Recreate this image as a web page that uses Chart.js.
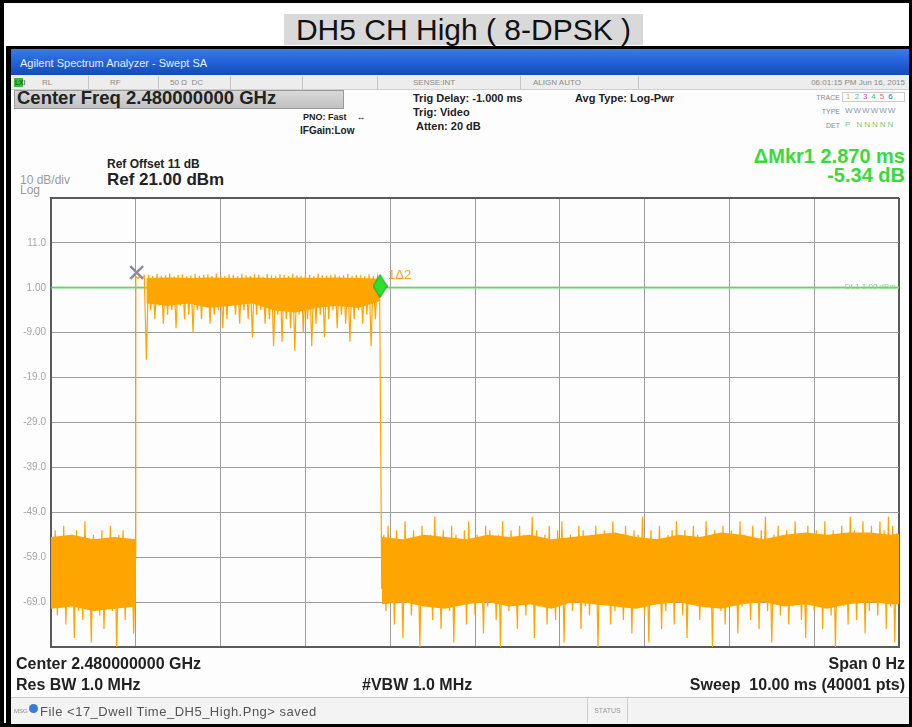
<!DOCTYPE html>
<html>
<head>
<meta charset="utf-8">
<script src="https://cdn.jsdelivr.net/npm/chart.js@4.4.1/dist/chart.umd.min.js"></script>
<style>
  html, body { margin: 0; padding: 0; }
  body { width: 912px; height: 727px; position: relative; overflow: hidden; background: #fff;
         font-family: "Liberation Sans", Arial, sans-serif; }
  .abs { position: absolute; white-space: nowrap; }
  .blk { position: absolute; background: #000; }
  .b { font-weight: bold; color: #222; }
  .tiny { font-size: 8px; line-height: 8px; color: #8a8a8a; }
  .div { position: absolute; top: 76px; height: 13px; width: 1px; background: #c4c4c4; }
  #screen { position: absolute; left: 11px; top: 49px; width: 898px; height: 674px; background: #fdfdfd; }
  #bluebar { position: absolute; left: 11px; top: 49px; width: 898px; height: 26px;
             background: linear-gradient(to bottom, #3c7be8 0%, #2160d8 55%, #1649b5 100%); }
  #statusrow { position: absolute; left: 11px; top: 75px; width: 898px; height: 14px; background: #ededed;
               border-bottom: 1px solid #cfcfcf; }
  #cfbox { position: absolute; left: 14px; top: 90px; width: 330px; height: 19px;
           background: linear-gradient(to bottom, #d8d8d8, #c2c2c2); border: 1px solid #9a9a9a; box-sizing: border-box; }
  #msgbar { position: absolute; left: 11px; top: 697px; width: 898px; height: 26px; background: #f3f3f3;
            border-top: 1px solid #c8c8c8; }
  #chart { position: absolute; left: 0; top: 185px; }
</style>
</head>
<body>
<!-- outer frame -->
<div class="blk" style="left:0;top:0;width:912px;height:3px"></div>
<div class="blk" style="left:0;top:0;width:4px;height:727px"></div>
<div class="blk" style="left:909px;top:0;width:3px;height:727px"></div>
<div class="blk" style="left:0;top:723px;width:912px;height:4px"></div>

<div class="abs" style="left:284px;top:14px;width:359px;height:31px;background:#d9d9d9;text-align:center;
     font-size:30px;line-height:31px;color:#111;">DH5 CH High ( 8-DPSK )</div>

<div class="blk" style="left:6px;top:46px;width:906px;height:3px"></div>
<div class="blk" style="left:6px;top:46px;width:5px;height:681px"></div>

<div id="screen"></div>
<div id="bluebar"></div>
<div class="abs" style="left:20px;top:58px;font-size:11px;line-height:11px;color:#e8f0ff;">Agilent Spectrum Analyzer - Swept SA</div>

<div id="statusrow"></div>
<div class="abs" style="left:14px;top:78px;width:9px;height:9px;background:#3cb83c;"></div>
<div class="abs tiny" style="left:15px;top:79px;color:#114411;font-size:7px;">LXI</div>
<div class="abs tiny" style="left:42px;top:79px;">RL</div>
<div class="div" style="left:88px"></div>
<div class="abs tiny" style="left:110px;top:79px;">RF</div>
<div class="div" style="left:158px"></div>
<div class="abs tiny" style="left:170px;top:79px;">50 Ω&nbsp;&nbsp;DC</div>
<div class="div" style="left:230px"></div>
<div class="div" style="left:302px"></div>
<div class="div" style="left:377px"></div>
<div class="abs tiny" style="left:413px;top:79px;">SENSE:INT</div>
<div class="div" style="left:520px"></div>
<div class="abs tiny" style="left:533px;top:79px;">ALIGN AUTO</div>
<div class="div" style="left:638px"></div>
<div class="abs tiny" style="right:7px;top:79px;">06:01:15 PM Jun 16, 2015</div>

<div id="cfbox"></div>
<div class="abs b" style="left:17px;top:89px;font-size:18.5px;line-height:18.5px;">Center Freq 2.480000000 GHz</div>

<div class="abs b" style="left:303px;top:113px;font-size:9px;line-height:9px;">PNO: Fast&nbsp;&nbsp;&nbsp;&nbsp;↔</div>
<div class="abs b" style="left:300px;top:126px;font-size:10px;line-height:10px;">IFGain:Low</div>

<div class="abs b" style="left:413px;top:93px;font-size:11px;line-height:11px;">Trig Delay: -1.000 ms</div>
<div class="abs b" style="left:413px;top:107px;font-size:11px;line-height:11px;">Trig: Video</div>
<div class="abs b" style="left:416px;top:121px;font-size:11px;line-height:11px;">Atten: 20 dB</div>
<div class="abs b" style="left:575px;top:93px;font-size:11px;line-height:11px;">Avg Type: Log-Pwr</div>

<div class="abs tiny" style="right:72px;top:94px;font-size:7px;line-height:7px;">TRACE</div>
<div class="abs" style="left:842px;top:92px;width:63px;height:10px;border:1px solid #ccc;box-sizing:border-box;font-size:8px;line-height:8px;letter-spacing:4px;padding-left:3px;">
  <span style="color:#e0c000">1</span><span style="color:#30c8d0">2</span><span style="color:#e040c0">3</span><span style="color:#40c040">4</span><span style="color:#f06090">5</span><span style="color:#4060e0">6</span></div>
<div class="abs tiny" style="right:72px;top:108px;font-size:7px;line-height:7px;">TYPE</div>
<div class="abs tiny" style="left:845px;top:107px;font-size:8px;line-height:8px;color:#8a9ab0;letter-spacing:1px;">WWWWWW</div>
<div class="abs tiny" style="right:72px;top:122px;font-size:7px;line-height:7px;">DET</div>
<div class="abs tiny" style="left:845px;top:121px;font-size:8px;line-height:8px;color:#7acc7a;letter-spacing:2px;">P NNNNN</div>

<div class="abs b" style="left:107px;top:158px;font-size:12px;line-height:12px;">Ref Offset 11 dB</div>
<div class="abs b" style="left:107px;top:171px;font-size:17px;line-height:17px;">Ref 21.00 dBm</div>
<div class="abs" style="left:20px;top:174px;font-size:12px;line-height:12px;color:#9a9a9a;">10 dB/div</div>
<div class="abs" style="left:20px;top:184px;font-size:12px;line-height:12px;color:#9a9a9a;">Log</div>

<div class="abs" style="right:7px;top:146px;font-size:20px;line-height:20px;font-weight:bold;color:#3ada3a;">ΔMkr1 2.870 ms</div>
<div class="abs" style="right:7px;top:165px;font-size:20px;line-height:20px;font-weight:bold;color:#3ada3a;">-5.34 dB</div>

<canvas id="chart" width="912" height="475"></canvas>

<div class="abs b" style="left:16px;top:656px;font-size:16px;line-height:16px;">Center 2.480000000 GHz</div>
<div class="abs b" style="left:16px;top:677px;font-size:16px;line-height:16px;">Res BW 1.0 MHz</div>
<div class="abs b" style="left:362px;top:677px;font-size:16px;line-height:16px;">#VBW 1.0 MHz</div>
<div class="abs b" style="right:7px;top:656px;font-size:16px;line-height:16px;">Span 0 Hz</div>
<div class="abs b" style="right:7px;top:677px;font-size:16px;line-height:16px;">Sweep&nbsp;&nbsp;10.00 ms (40001 pts)</div>

<div id="msgbar"></div>
<div class="abs tiny" style="left:14px;top:708px;font-size:6px;line-height:6px;">MSG</div>
<div class="abs" style="left:29px;top:704px;width:9px;height:9px;border-radius:50%;background:#3a7ad8;"></div>
<div class="abs" style="left:40px;top:705px;font-size:13px;line-height:13px;color:#555;letter-spacing:0.5px;">File &lt;17_Dwell Time_DH5_High.Png&gt; saved</div>
<div class="abs" style="left:587px;top:698px;width:41px;height:25px;border-left:1px solid #cfcfcf;border-right:1px solid #cfcfcf;box-sizing:border-box;
     font-size:7px;line-height:25px;color:#999;text-align:center;">STATUS</div>

<script>
// Sweep setup (time domain, zero span)
const sweepStartMs = 0;
const sweepEndMs = 10;
const sampleStepMs = 0.025;
const coreStepMs = 0.25;

// Y axis: Ref 21 dBm, 10 dB/div
const yTickValues = [21, 11, 1, -9, -19, -29, -39, -49, -59, -69, -79];
const yTickLabels = ['', '11.0', '1.00', '-9.00', '-19.0', '-29.0', '-39.0', '-49.0', '-59.0', '-69.0', ''];

// Trace (peak / valley samples), dBm
const preBurstStartMs = 0;
const preBurst = [
  -55, -70, -53, -72, -56, -68, -52, -74, -57, -69, -54, -77, -53, -71, -58, -73, -51, -69, -55, -78,
  -54, -70, -56, -72, -53, -75, -57, -68, -52, -71, -55, -79, -54, -70, -53, -73, -56, -69, -55, -76, -57
];

const burstStartMs = 1.0;
const burst = [
  3.5, 3.1, 3.6, 3.2, 3.7, -15,
  3.9, -4, 3.6, -6, 4.1, -3, 3.7, -7, 3.8, -5, 4.2, -4, 3.5, -8, 3.9, -3, 4.0, -6, 3.6, -5,
  3.8, -9, 4.1, -4, 3.7, -6, 3.9, -3, 4.0, -7, 3.6, -5, 4.2, -4, 3.8, -8, 3.7, -6, 4.0, -3,
  3.9, -5, 3.6, -7, 4.1, -4, 3.8, -6, 3.7, -10, 4.0, -5, 3.9, -4, 3.5, -7, 4.1, -6, 3.8, -12,
  3.7, -5, 4.0, -11, 3.9, -6, 3.6, -8, 4.2, -13, 3.8, -5, 3.7, -9, 4.0, -6, 3.9, -12, 3.6, -7,
  4.1, -5, 3.8, -10, 3.7, -6, 3.9, -4, 4.0, -8, 3.6, -5, 3.8, -7, 4.1, -11, 3.7, -6, 3.9, -4,
  3.8, -7, 3.6, -5, 4.0, -12, 3.7, -6, 3.6, 1.5
];

const postBurstStartMs = 3.9;
const postBurst = [
  -66, -54, -71, -52, -68, -56, -74, -53, -65, -55, -77, -51, -69, -57, -72, -53, -67, -55, -79, -52,
  -70, -56, -66, -54, -73, -50, -68, -55, -75, -53, -65, -57, -71, -52, -78, -54, -67, -56, -69, -53,
  -74, -51, -66, -55, -72, -54, -68, -57, -76, -52, -70, -53, -65, -56, -73, -54, -79, -51, -67, -55,
  -71, -53, -69, -57, -75, -52, -66, -54, -72, -56, -68, -50, -77, -53, -70, -55, -67, -54, -74, -52,
  -65, -56, -73, -53, -69, -51, -78, -55, -66, -54, -71, -57, -68, -52, -75, -53, -70, -56, -72, -54,
  -67, -52, -79, -55, -69, -53, -66, -57, -74, -51, -71, -54, -68, -56, -73, -52, -65, -55, -76, -53,
  -70, -54, -67, -50, -72, -56, -78, -53, -66, -55, -69, -52, -75, -57, -71, -54, -68, -53, -74, -51,
  -65, -55, -72, -53, -77, -56, -69, -52, -67, -54, -73, -57, -70, -51, -66, -55, -79, -53, -68, -54,
  -71, -52, -74, -56, -69, -53, -66, -55, -76, -51, -70, -54, -67, -57, -73, -52, -68, -55, -75, -53,
  -65, -50, -71, -56, -78, -54, -69, -52, -72, -55, -67, -53, -74, -57, -70, -51, -66, -54, -73, -56,
  -77, -52, -68, -55, -71, -53, -65, -54, -75, -51, -69, -56, -72, -53, -79, -55, -67, -52, -70, -54,
  -74, -50, -66, -53, -73, -56, -68, -51, -76, -54, -71, -52, -69, -55, -72, -51, -67, -53, -75, -50,
  -70, -52, -78, -54, -55
];

// Dense core of the trace (where the samples pile up into a solid band), dBm
const preCoreStartMs = 0;
const preCoreHi = [-54.5, -54, -55, -54.5, -55];
const preCoreLo = [-70.5, -70, -71, -70.5, -70];
const burstCoreStartMs = 1.125;
const burstCoreHi = [3.2, 3.3, 3.2, 3.3, 3.2, 3.3, 3.2, 3.3, 3.2, 3.3, 3.2, 3.0];
const burstCoreLo = [-2.5, -3, -2.5, -3.5, -3, -2.5, -4, -4.5, -3.5, -3, -3.5, -2];
const postCoreStartMs = 3.9;
const postCoreHi = [-54.5, -55, -54, -54.5, -55, -54, -54.5, -54, -55, -54.5, -54, -53.5, -54.5,
                    -55, -54, -54.5, -53.5, -54, -55, -54, -53.5, -54, -53.5, -53.5, -54, -53.5];
const postCoreLo = [-69.5, -69, -70, -70.5, -69.5, -69, -70, -69.5, -70.5, -69, -69.5, -70, -70.5,
                    -69.5, -69, -70, -70.5, -69.5, -69, -70, -69.5, -70.5, -69.5, -69, -69.5, -69.5];

// Display line and markers
const displayLineDbm = 1.0;
const displayLineLabel = 'DL1 1.00 dBm';
const marker1 = { x: 1.01, y: 4.4 };
const marker2 = { x: 3.88, y: 1.4 };
const marker2Label = '1\u03942';

const traceColor = '#ffa500';

const toPoints = (startMs, step, vals) => vals.map((v, i) => ({ x: startMs + i * step, y: v }));
const tracePoints = [
  ...toPoints(preBurstStartMs, sampleStepMs, preBurst),
  ...toPoints(burstStartMs, sampleStepMs, burst),
  ...toPoints(postBurstStartMs, sampleStepMs, postBurst),
];

// filled band between an upper and a lower envelope
const coreBand = (startMs, hi, lo) => [
  { label: 'core', data: toPoints(startMs, coreStepMs, hi), fill: '+1', backgroundColor: traceColor,
    borderWidth: 0, pointRadius: 0, tension: 0 },
  { label: 'core', data: toPoints(startMs, coreStepMs, lo), fill: false, borderWidth: 0, pointRadius: 0, tension: 0 },
];

// tall green diamond for the delta marker
const diamond = document.createElement('canvas');
diamond.width = 15; diamond.height = 24;
(() => {
  const g = diamond.getContext('2d');
  g.beginPath();
  g.moveTo(7.5, 0.5); g.lineTo(14.5, 12); g.lineTo(7.5, 23.5); g.lineTo(0.5, 12); g.closePath();
  g.fillStyle = '#2ee02e'; g.fill();
  g.strokeStyle = '#169c16'; g.lineWidth = 1; g.stroke();
})();

// marker / display line annotations
const markerLabels = {
  id: 'markerLabels',
  afterDatasetsDraw(chart) {
    const { ctx, scales: { x, y } } = chart;
    ctx.save();
    ctx.font = '13px "Liberation Sans", Arial, sans-serif';
    ctx.fillStyle = '#f3a42a';
    ctx.textBaseline = 'middle';
    ctx.fillText(marker2Label, x.getPixelForValue(marker2.x) + 8, y.getPixelForValue(marker2.y) - 11);
    ctx.font = '8px "Liberation Sans", Arial, sans-serif';
    ctx.fillStyle = '#86d886';
    ctx.textAlign = 'right';
    ctx.textBaseline = 'bottom';
    ctx.fillText(displayLineLabel, x.right - 3, y.getPixelForValue(displayLineDbm) + 3);
    ctx.restore();
  }
};

const edgeColor = '#5a5a5a';
const gridColor = '#9c9c9c';

const ctx = document.getElementById('chart').getContext('2d');
new Chart(ctx, {
  type: 'line',
  data: {
    datasets: [
      { label: 'Mkr2', data: [marker2], showLine: false, pointStyle: diamond, pointRadius: 12 },
      { label: 'Mkr1', data: [marker1], showLine: false, pointStyle: 'crossRot', pointRadius: 9,
        borderColor: '#8d8a9c', backgroundColor: '#8d8a9c', pointBorderWidth: 2.5 },
      { label: 'Trace', data: tracePoints, borderColor: traceColor, borderWidth: 1.2, pointRadius: 0, tension: 0 },
      ...coreBand(preCoreStartMs, preCoreHi, preCoreLo),
      ...coreBand(burstCoreStartMs, burstCoreHi, burstCoreLo),
      ...coreBand(postCoreStartMs, postCoreHi, postCoreLo),
      { label: 'DL1', data: [{ x: sweepStartMs, y: displayLineDbm }, { x: sweepEndMs, y: displayLineDbm }],
        borderColor: 'rgba(120,215,120,0.55)', borderWidth: 3, pointRadius: 0 },
    ],
  },
  options: {
    responsive: false,
    animation: false,
    devicePixelRatio: 1,
    layout: { padding: { top: 8, right: 6, bottom: 8, left: 0 } },
    plugins: { legend: { display: false }, tooltip: { enabled: false } },
    scales: {
      x: {
        type: 'linear',
        min: sweepStartMs,
        max: sweepEndMs,
        ticks: { display: false, stepSize: 1 },
        grid: {
          drawTicks: false,
          color: (c) => (c.tick && c.tick.value === sweepEndMs ? edgeColor : gridColor),
          lineWidth: (c) => (c.tick && c.tick.value === sweepEndMs ? 2 : 1),
        },
        border: { color: edgeColor, width: 2 },
        afterFit: (s) => { s.height = 0; },
      },
      y: {
        min: -79,
        max: 21,
        afterBuildTicks: (s) => { s.ticks = yTickValues.map(v => ({ value: v })); },
        ticks: {
          callback: (v) => yTickLabels[yTickValues.indexOf(v)],
          color: '#a6a6a6',
          font: { size: 10, family: '"Liberation Sans", Arial, sans-serif' },
          padding: 5,
        },
        grid: {
          drawTicks: false,
          color: (c) => (c.tick && c.tick.value === 21 ? edgeColor : gridColor),
          lineWidth: (c) => (c.tick && c.tick.value === 21 ? 2 : 1),
        },
        border: { color: edgeColor, width: 2 },
        afterFit: (s) => { s.width = 51; },
      },
    },
  },
  plugins: [markerLabels],
});
</script>
</body>
</html>
